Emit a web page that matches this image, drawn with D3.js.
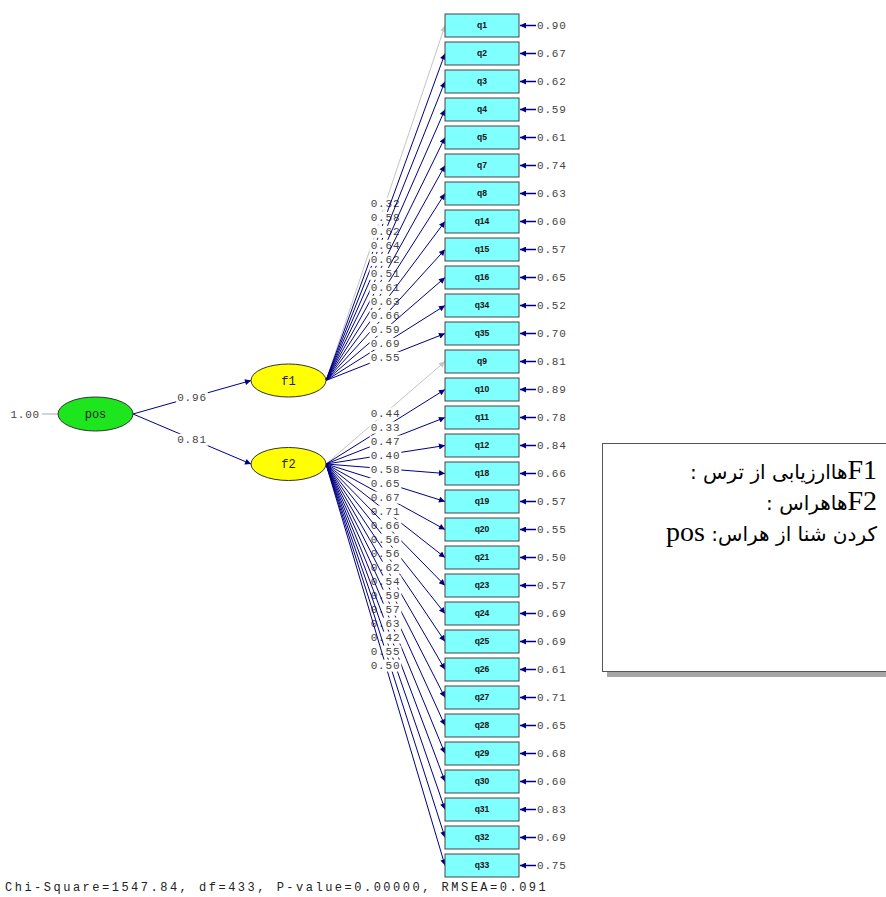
<!DOCTYPE html>
<html>
<head>
<meta charset="utf-8">
<script src="https://cdn.jsdelivr.net/npm/d3@7"></script>
<style>
  html, body { margin: 0; padding: 0; background: #fff; }
  svg { display: block; }
</style>
</head>
<body>
<div id="path_diagram"></div>
<script>
// indicators of each first-order factor, top to bottom
const f1Items = ['q1', 'q2', 'q3', 'q4', 'q5', 'q7', 'q8', 'q14', 'q15', 'q16', 'q34', 'q35'];
const f1Loadings = [0.32, 0.58, 0.62, 0.64, 0.62, 0.51, 0.61, 0.63, 0.66, 0.59, 0.69, 0.55];
const f1Errors = [0.90, 0.67, 0.62, 0.59, 0.61, 0.74, 0.63, 0.60, 0.57, 0.65, 0.52, 0.70];

const f2Items = ['q9', 'q10', 'q11', 'q12', 'q18', 'q19', 'q20', 'q21', 'q23', 'q24', 'q25', 'q26', 'q27', 'q28', 'q29', 'q30', 'q31', 'q32', 'q33'];
const f2Loadings = [0.44, 0.33, 0.47, 0.40, 0.58, 0.65, 0.67, 0.71, 0.66, 0.56, 0.56, 0.62, 0.54, 0.59, 0.57, 0.63, 0.42, 0.55, 0.50];
const f2Errors = [0.81, 0.89, 0.78, 0.84, 0.66, 0.57, 0.55, 0.50, 0.57, 0.69, 0.69, 0.61, 0.71, 0.65, 0.68, 0.60, 0.83, 0.69, 0.75];

const factors = ['f1', 'f2'];
const factorPaths = [0.96, 0.81];
const secondOrder = 'pos';
const secondOrderVariance = 1.00;

const fitText = 'Chi-Square=1547.84, df=433, P-value=0.00000, RMSEA=0.091';
// words of each legend line, in the order they sit on screen from left to right
const legendLines = [
  [':', ' ', 'ترس', ' ', 'از', ' ', 'ارزیابی', 'ها', 'F1'],
  [':', ' ', 'هراس', 'ها', 'F2'],
  ['pos', ' ', ':', 'هراس', ' ', 'از', ' ', 'شنا', ' ', 'کردن'],
];

const width = 886;
const height = 897;
const monoFont = '"Liberation Mono", "Courier New", monospace';
const navy = '#000080';
const grey = '#c4c4c4';
const fmt = d3.format('.2f');

const svg = d3
  .select('#path_diagram')
  .append('svg')
  .attr('width', width)
  .attr('height', height);

const defs = svg.append('defs');
[['arrow-navy', navy], ['arrow-grey', grey]].forEach(([id, color]) => {
  defs
    .append('marker')
    .attr('id', id)
    .attr('viewBox', '0 0 10 10')
    .attr('refX', 10)
    .attr('refY', 5)
    .attr('markerUnits', 'userSpaceOnUse')
    .attr('markerWidth', 10)
    .attr('markerHeight', 6)
    .attr('orient', 'auto')
    .append('path')
    .attr('d', 'M0,0L10,5L0,10z')
    .attr('fill', color);
});

const allItems = f1Items.concat(f2Items);
const itemRows = allItems.map((name, i) => {
  const inF1 = i < f1Items.length;
  const j = inF1 ? i : i - f1Items.length;
  return {
    name,
    factor: inF1 ? 'f1' : 'f2',
    loading: inF1 ? f1Loadings[j] : f2Loadings[j],
    error: inF1 ? f1Errors[j] : f2Errors[j],
    reference: j === 0,
  };
});

const yScale = d3.scalePoint().domain(allItems).range([25.5, 865.5]);
const boxX = 445;
const boxW = 74;
const boxH = 23;

const latentPos = {
  pos: { x: 95.5, y: 414, rx: 37.5, ry: 17, fill: '#1ee61e' },
  f1: { x: 288.5, y: 380.5, rx: 37.5, ry: 16.5, fill: '#ffff00' },
  f2: { x: 288.5, y: 464, rx: 37.5, ry: 16.5, fill: '#ffff00' },
};

// draws a path label on a white patch at (x, y)
function pathLabel(g, x, y, text) {
  const t = g
    .append('text')
    .attr('x', x)
    .attr('y', y)
    .attr('dy', '0.35em')
    .attr('text-anchor', 'middle')
    .attr('font-family', monoFont)
    .attr('font-size', 11)
    .attr('letter-spacing', 0.8)
    .attr('fill', '#444')
    .text(text);
  const bb = t.node().getBBox();
  g.insert('rect', 'text')
    .attr('x', bb.x - 1)
    .attr('y', bb.y)
    .attr('width', bb.width + 2)
    .attr('height', bb.height)
    .attr('fill', '#fff');
}

// factor -> item loadings
const loadingLayer = svg.append('g');
itemRows.forEach((d) => {
  const f = latentPos[d.factor];
  const x0 = f.x + f.rx;
  const y0 = f.y;
  const x1 = boxX;
  const y1 = yScale(d.name);
  const g = loadingLayer.append('g');
  g.append('line')
    .attr('x1', x0)
    .attr('y1', y0)
    .attr('x2', x1)
    .attr('y2', y1)
    .attr('stroke', d.reference ? grey : navy)
    .attr('stroke-width', 1)
    .attr('marker-end', `url(#${d.reference ? 'arrow-grey' : 'arrow-navy'})`);
  pathLabel(g, (x0 + x1) / 2, (y0 + y1) / 2, fmt(d.loading));
});

// second-order paths
const pos = latentPos[secondOrder];
factors.forEach((name, i) => {
  const f = latentPos[name];
  const x0 = pos.x + pos.rx;
  const x1 = f.x - f.rx;
  const g = svg.append('g');
  g.append('line')
    .attr('x1', x0)
    .attr('y1', pos.y)
    .attr('x2', x1)
    .attr('y2', f.y)
    .attr('stroke', navy)
    .attr('marker-end', 'url(#arrow-navy)');
  pathLabel(g, (x0 + x1) / 2, (pos.y + f.y) / 2, fmt(factorPaths[i]));
});

// variance of pos
svg
  .append('line')
  .attr('x1', 42)
  .attr('y1', pos.y)
  .attr('x2', pos.x - pos.rx)
  .attr('y2', pos.y)
  .attr('stroke', '#aaa');
svg
  .append('text')
  .attr('x', 40)
  .attr('y', pos.y)
  .attr('dy', '0.35em')
  .attr('text-anchor', 'end')
  .attr('font-family', monoFont)
  .attr('font-size', 11)
  .attr('letter-spacing', 0.8)
  .attr('fill', '#444')
  .text(fmt(secondOrderVariance));

// latent ellipses
svg
  .selectAll('g.latent')
  .data(Object.keys(latentPos))
  .enter()
  .append('g')
  .attr('class', 'latent')
  .each(function (k) {
    const p = latentPos[k];
    const g = d3.select(this);
    g.append('ellipse')
      .attr('cx', p.x)
      .attr('cy', p.y)
      .attr('rx', p.rx)
      .attr('ry', p.ry)
      .attr('fill', p.fill)
      .attr('stroke', '#333');
    g.append('text')
      .attr('x', p.x)
      .attr('y', p.y)
      .attr('dy', '0.35em')
      .attr('text-anchor', 'middle')
      .attr('font-family', monoFont)
      .attr('font-size', 12)
      .attr('fill', '#222')
      .text(k);
  });

// observed boxes and error variances
const boxes = svg
  .selectAll('g.item')
  .data(itemRows)
  .enter()
  .append('g')
  .attr('class', 'item');

boxes
  .append('rect')
  .attr('x', boxX)
  .attr('y', (d) => yScale(d.name) - boxH / 2)
  .attr('width', boxW)
  .attr('height', boxH)
  .attr('fill', '#80ffff')
  .attr('stroke', '#444');

boxes
  .append('text')
  .attr('x', boxX + boxW / 2)
  .attr('y', (d) => yScale(d.name))
  .attr('dy', '0.35em')
  .attr('text-anchor', 'middle')
  .attr('font-family', 'Arial, "Liberation Sans", sans-serif')
  .attr('font-size', 8.5)
  .attr('font-weight', 'bold')
  .attr('fill', '#111')
  .text((d) => d.name);

boxes
  .append('line')
  .attr('x1', 536)
  .attr('y1', (d) => yScale(d.name))
  .attr('x2', boxX + boxW + 1)
  .attr('y2', (d) => yScale(d.name))
  .attr('stroke', navy)
  .attr('stroke-width', 1.5)
  .attr('marker-end', 'url(#arrow-navy)');

boxes
  .append('text')
  .attr('x', 537)
  .attr('y', (d) => yScale(d.name))
  .attr('dy', '0.35em')
  .attr('font-family', monoFont)
  .attr('font-size', 11)
  .attr('letter-spacing', 0.8)
  .attr('fill', '#444')
  .text((d) => fmt(d.error));

// fit statistics
svg
  .append('text')
  .attr('x', 5)
  .attr('y', 891)
  .attr('font-family', monoFont)
  .attr('font-size', 12)
  .attr('letter-spacing', 2.5)
  .attr('fill', '#222')
  .text(fitText);

// legend box
svg
  .append('rect')
  .attr('x', 607)
  .attr('y', 449)
  .attr('width', 300)
  .attr('height', 228)
  .attr('fill', '#a6a6a6');
svg
  .append('rect')
  .attr('x', 602.5)
  .attr('y', 443.5)
  .attr('width', 300)
  .attr('height', 228)
  .attr('fill', '#fff')
  .attr('stroke', '#555');

// legend lines: each word placed by hand so the on-screen order stays as in the picture
const isPersian = (s) => /[\u0600-\u06FF]/.test(s);
const isLatin = (s) => /[A-Za-z0-9]/.test(s);
const legendRight = 877;
legendLines.forEach((words, i) => {
  const g = svg.append('g').attr('class', 'legend');
  const nodes = words.map((w) =>
    g
      .append('text')
      .attr('y', 479 + i * 31)
      .style('white-space', 'pre')
      .attr('font-family', isLatin(w) ? '"Liberation Serif", "Times New Roman", serif' : '"DejaVu Sans", sans-serif')
      .attr('font-size', isLatin(w) ? 28 : 20)
      .attr('fill', '#000')
      .text(w)
  );
  const widths = nodes.map((n) => n.node().getComputedTextLength());
  let x = legendRight - d3.sum(widths);
  nodes.forEach((n, k) => {
    n.attr('x', x);
    x += widths[k];
  });
});
</script>
</body>
</html>
